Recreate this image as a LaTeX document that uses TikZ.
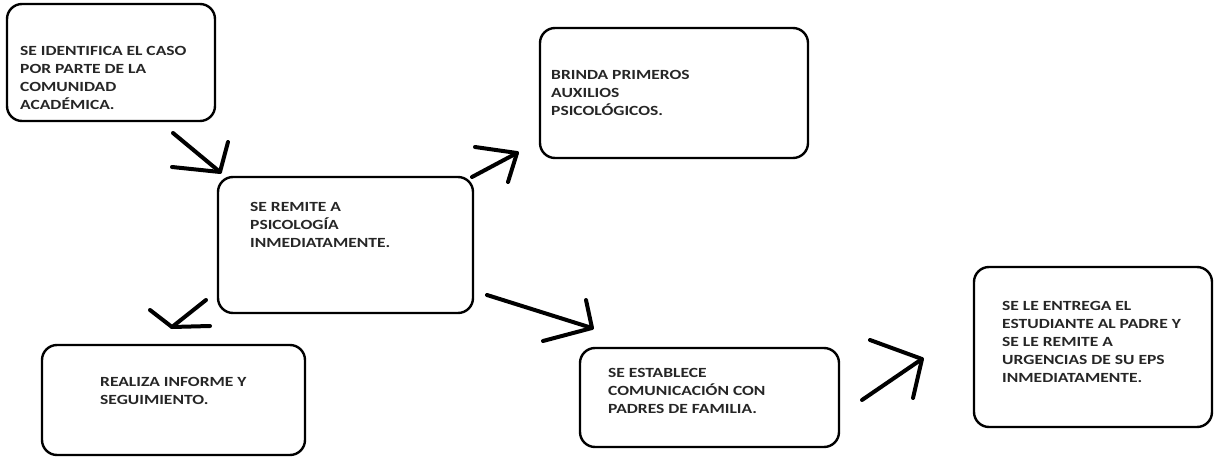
\documentclass[tikz,border=0pt]{standalone}
\usepackage{fontspec}
\setmainfont{Carlito}[FakeStretch=1.25]
\begin{document}
\begin{tikzpicture}[x=1pt,y=-1pt,
  box/.style={draw=black, line width=2.4pt, rounded corners=15pt, inner sep=0pt},
  txt/.style={anchor=north west, inner sep=0pt, align=left, text=black!85,
    font=\fontsize{14}{18}\selectfont\bfseries},
  stroke/.style={draw=black, line width=4pt, line cap=round, line join=round}]
\useasboundingbox (0,0) rectangle (1214,457);
\fill[white] (0,0) rectangle (1214,457);

% boxes
\node[box, minimum width=208pt, minimum height=117pt] (b1) at (111,62.5) {};
\node[box, minimum width=255pt, minimum height=136pt] (b2) at (345.5,245) {};
\node[box, minimum width=268pt, minimum height=130pt] (b3) at (674,93) {};
\node[box, minimum width=263pt, minimum height=110pt] (b4) at (173.5,400) {};
\node[box, minimum width=259pt, minimum height=99pt] (b5) at (709.5,397.5) {};
\node[box, minimum width=238pt, minimum height=160pt] (b6) at (1093,347) {};

% texts
\node[txt] (t1) at (20,46) {SE IDENTIFICA EL CASO\\POR PARTE DE LA\\COMUNIDAD\\ACADÉMICA.};
\node[txt] (t2) at (250,202) {SE REMITE A\\PSICOLOGÍA\\INMEDIATAMENTE.};
\node[txt] (t3) at (551,70) {BRINDA PRIMEROS\\AUXILIOS\\PSICOLÓGICOS.};
\node[txt] (t4) at (100,377) {REALIZA INFORME Y\\SEGUIMIENTO.};
\node[txt] (t5) at (608,368) {SE ESTABLECE\\COMUNICACIÓN CON\\PADRES DE FAMILIA.};
\node[txt] (t6) at (1002,301) {SE LE ENTREGA EL\\ESTUDIANTE AL PADRE Y\\SE LE REMITE A\\URGENCIAS DE SU EPS\\INMEDIATAMENTE.};

% arrow 1: b1 -> b2
\coordinate (a1s) at (173,133);
\coordinate (a1t) at (220,172);
\coordinate (a1u) at (228,142);
\coordinate (a1v) at (172,167);
\draw[stroke] (a1s) -- (a1t);
\draw[stroke] (a1u) -- (a1t) -- (a1v);

% arrow 2: b2 -> b3
\coordinate (a2s) at (472,177);
\coordinate (a2t) at (517,153);
\coordinate (a2u) at (475,147);
\coordinate (a2v) at (508,182);
\draw[stroke] (a2s) -- (a2t);
\draw[stroke] (a2u) -- (a2t) -- (a2v);

% arrow 3: b2 -> b4
\coordinate (a3s) at (206,300);
\coordinate (a3t) at (172,327);
\coordinate (a3u) at (150,310);
\coordinate (a3v) at (210,326);
\draw[stroke] (a3s) -- (a3t);
\draw[stroke] (a3u) -- (a3t) -- (a3v);

% arrow 4: b2 -> b5
\coordinate (a4s) at (487,295);
\coordinate (a4t) at (592,328);
\coordinate (a4u) at (586,300);
\coordinate (a4v) at (543,341);
\draw[stroke] (a4s) -- (a4t);
\draw[stroke] (a4u) -- (a4t) -- (a4v);

% arrow 5: b5 -> b6
\coordinate (a5s) at (862,400);
\coordinate (a5t) at (922,359);
\coordinate (a5u) at (870,340);
\coordinate (a5v) at (913,398);
\draw[stroke] (a5s) -- (a5t);
\draw[stroke] (a5u) -- (a5t) -- (a5v);
\end{tikzpicture}
\end{document}
